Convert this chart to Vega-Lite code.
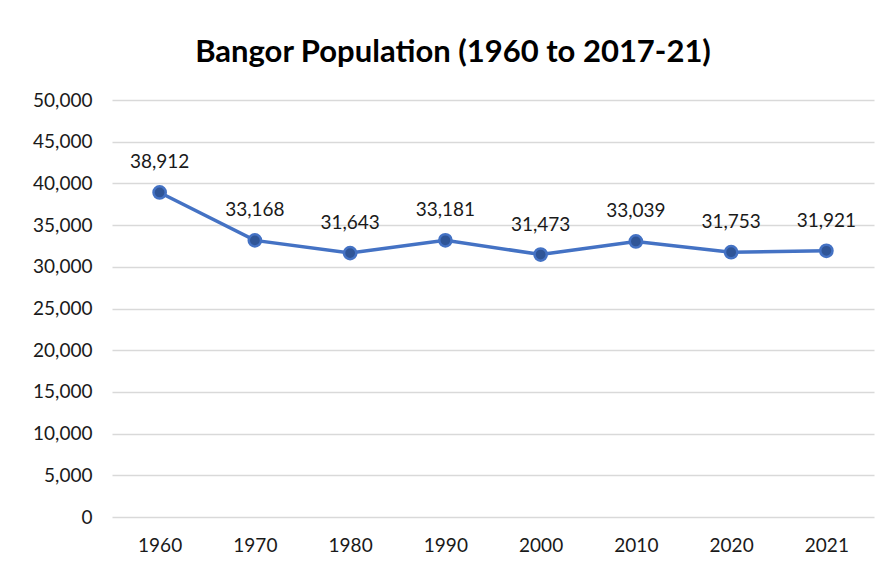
{
  "$schema": "https://vega.github.io/schema/vega-lite/v6.json",
  "width": 762,
  "height": 417,
  "autosize": {"type": "none"},
  "padding": {"left": 112, "top": 100, "right": 17, "bottom": 50},
  "background": "white",
  "title": {
    "text": "Bangor Population (1960 to 2017-21)",
    "fontSize": 31,
    "font": "Lato",
    "fontWeight": "bold",
    "color": "#000000",
    "anchor": "middle",
    "dx": -40,
    "offset": 22
  },
  "data": {
    "values": [
      {"year": "1960", "pop": 38912},
      {"year": "1970", "pop": 33168},
      {"year": "1980", "pop": 31643},
      {"year": "1990", "pop": 33181},
      {"year": "2000", "pop": 31473},
      {"year": "2010", "pop": 33039},
      {"year": "2020", "pop": 31753},
      {"year": "2021", "pop": 31921}
    ]
  },
  "encoding": {
    "x": {
      "field": "year",
      "type": "ordinal",
      "scale": {"paddingInner": 0, "paddingOuter": 0.5},
      "axis": {
        "title": null,
        "labelAngle": 0,
        "labelFont": "Lato",
        "labelFontSize": 19,
        "labelColor": "#1a1a1a",
        "labelPadding": 19,
        "domain": false,
        "ticks": false,
        "grid": false
      }
    },
    "y": {
      "field": "pop",
      "type": "quantitative",
      "scale": {"domain": [0, 50000]},
      "axis": {
        "title": null,
        "values": [0, 5000, 10000, 15000, 20000, 25000, 30000, 35000, 40000, 45000, 50000],
        "format": ",.0f",
        "labelFont": "Lato",
        "labelFontSize": 19,
        "labelColor": "#1a1a1a",
        "labelPadding": 20,
        "domain": false,
        "ticks": false,
        "grid": true,
        "gridColor": "#d9d9d9",
        "gridWidth": 1.5
      }
    }
  },
  "layer": [
    {
      "mark": {"type": "line", "color": "#4472C4", "strokeWidth": 3.5}
    },
    {
      "mark": {"type": "point", "shape": "circle", "filled": true, "size": 150, "color": "#2F5597", "stroke": "#4472C4", "strokeWidth": 2.5, "opacity": 1}
    },
    {
      "mark": {"type": "text", "baseline": "bottom", "dy": -20, "font": "Lato", "fontSize": 19, "color": "#1a1a1a"},
      "encoding": {"text": {"field": "pop", "type": "quantitative", "format": ","}}
    }
  ],
  "config": {"view": {"stroke": null}}
}
